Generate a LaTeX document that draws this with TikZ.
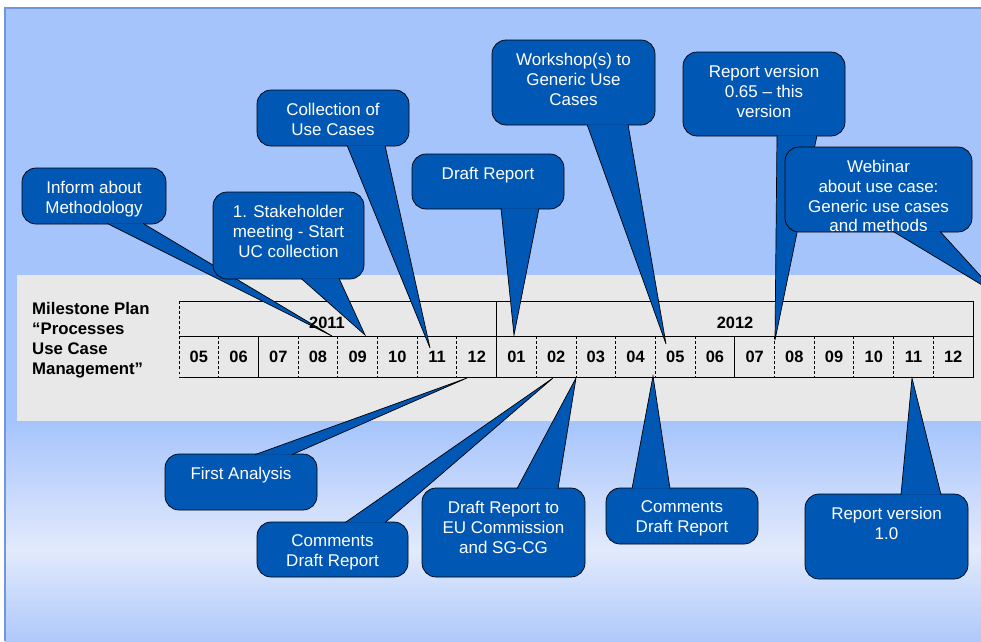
\documentclass[tikz,border=0pt]{standalone}
\usepackage{fontspec}
\setmainfont{Liberation Sans}
\usetikzlibrary{calc}

\definecolor{slideblue}{RGB}{166,196,252}
\definecolor{slidepale}{RGB}{226,234,252}
\definecolor{slidelow}{RGB}{174,201,251}
\definecolor{slideframe}{RGB}{110,150,225}
\definecolor{bandgrey}{RGB}{232,232,232}
\definecolor{bubbleblue}{RGB}{0,87,180}

\tikzset{
    bubble/.style 2 args={draw=black, fill=bubbleblue, line width=0.6pt, rounded corners=0.42cm,
        minimum width=#1*0.03cm, minimum height=#2*0.03cm, inner sep=0pt},
    bubtext/.style={anchor=north, yshift=-0.39cm, inner sep=0pt, text=white, align=center,
        font=\fontsize{14.5}{17}\selectfont},
    tail/.style={draw=black, fill=bubbleblue, line width=0.6pt},
    month/.style={font=\fontsize{14}{17}\selectfont\bfseries},
    solidline/.style={line width=0.8pt},
    dashline/.style={line width=0.8pt, dash pattern=on 2.5pt off 1.8pt},
}

\begin{document}
\begin{tikzpicture}[x=0.03cm, y=-0.03cm]

    %% Slide

    % Background
    \useasboundingbox (0,0) rectangle (981,641);
    \clip (0,0) rectangle (981,641);
    \fill[white] (0,0) rectangle (981,641);
    \fill[slideblue] (5,8) rectangle (981,421);
    \shade[top color=slideblue, bottom color=slidepale] (5,421) rectangle (981,550);
    \shade[top color=slidepale, bottom color=slidelow] (5,550) rectangle (981,641);
    \draw[slideframe, line width=1pt] (5,641) -- (5,8) -- (981,8);

    % Grey band
    \fill[bandgrey] (17,275) rectangle (981,421);

    % Title
    \node[anchor=north west, inner sep=0pt, align=left, font=\fontsize{14.3}{17}\selectfont\bfseries]
        (title) at (32,302) {Milestone Plan\\“Processes\\Use Case\\Management”};

    %% Time line

    % Frame
    \draw[solidline] (179,301) -- (973,301) -- (973,377) -- (179,377);
    \draw[solidline] (179,336) -- (973,336);
    \draw[solidline] (496.6,301) -- (496.6,377);
    \draw[dashline] (179,301) -- (179,377);

    % Month separators
    \foreach \k in {1,3,4,5,6,7,9,10,11,12,13,15,16,17,18,19}
        \draw[dashline] ({179+39.7*\k},336) -- ({179+39.7*\k},377);
    \foreach \k in {2,14}
        \draw[solidline] ({179+39.7*\k},336) -- ({179+39.7*\k},377);

    % Milestone points
    \coordinate (tInform) at (332,336);
    \coordinate (tStake) at (365,335);
    \coordinate (tCollect) at (430,348);
    \coordinate (tDraft) at (514,335);
    \coordinate (tWorkshop) at (666,344);
    \coordinate (tRepA) at (775,340);
    \coordinate (tWebinar) at (997,294);
    \coordinate (tFirst) at (467,378);
    \coordinate (tComA) at (553,378);
    \coordinate (tDraftEU) at (576,378);
    \coordinate (tComB) at (653,376);
    \coordinate (tRepB) at (912,378);

    %% Callouts above

    % Inform about Methodology
    \node[bubble={144}{56}, label={[bubtext]north:{Inform about\\Methodology}}] (inform) at (94,196) {};
    \filldraw[tail] ($(inform.south)+(13,-1)$) -- (tInform) -- ($(inform.south)+(49,-1)$);

    % Stakeholder meeting
    \node[bubble={151}{87}, label={[bubtext]north:{1. Stakeholder\\meeting - Start\\UC collection}}] (stake) at (288.5,235.5) {};
    \filldraw[tail] ($(stake.south)+(12.5,-1)$) -- (tStake) -- ($(stake.south)+(50.5,-1)$);

    % Collection of use cases
    \node[bubble={152}{56}, label={[bubtext]north:{Collection of\\Use Cases}}] (collect) at (333,118) {};
    \filldraw[tail] ($(collect.south)+(14,-1)$) -- (tCollect) -- ($(collect.south)+(52,-1)$);

    % Draft report
    \node[bubble={152}{55}, label={[bubtext]north:{Draft Report}}] (draft) at (488,181.5) {};
    \filldraw[tail] ($(draft.south)+(13,-1)$) -- (tDraft) -- ($(draft.south)+(51,-1)$);

    % Workshops
    \node[bubble={163}{85}, label={[bubtext]north:{Workshop(s) to\\Generic Use\\Cases}}] (workshop) at (573.5,82.5) {};
    \filldraw[tail] ($(workshop.south)+(13.5,-1)$) -- (tWorkshop) -- ($(workshop.south)+(54.5,-1)$);

    % Report version 0.65
    \node[bubble={162}{84}, label={[bubtext]north:{Report version\\0.65 – this\\version}}] (repA) at (764,94) {};
    \filldraw[tail] ($(repA.south)+(13,-1)$) -- (tRepA) -- ($(repA.south)+(53,-1)$);

    % Webinar
    \node[bubble={187}{85}, label={[bubtext]north:{Webinar\\about use case:\\Generic use cases\\and methods}}] (webinar) at (878.5,189.5) {};
    \filldraw[tail] ($(webinar.south)+(14.5,-1)$) -- (tWebinar) -- ($(webinar.south)+(61.5,-1)$);

    %% Callouts below

    % First analysis
    \node[bubble={152}{56}, label={[bubtext]north:{First Analysis}}] (first) at (241,482) {};
    \filldraw[tail] ($(first.north)+(14,1)$) -- (tFirst) -- ($(first.north)+(51,1)$);

    % Comments on draft
    \node[bubble={151}{55}, label={[bubtext]north:{Comments\\Draft Report}}] (comA) at (332.5,549.5) {};
    \filldraw[tail] ($(comA.north)+(12.5,1)$) -- (tComA) -- ($(comA.north)+(52.5,1)$);

    % Draft to EU Commission
    \node[bubble={163}{89}, label={[bubtext]north:{Draft Report to\\EU Commission\\and SG-CG}}] (draftEU) at (503.5,532.5) {};
    \filldraw[tail] ($(draftEU.north)+(13.5,1)$) -- (tDraftEU) -- ($(draftEU.north)+(54.5,1)$);

    % Comments on draft, second round
    \node[bubble={152}{56}, label={[bubtext]north:{Comments\\Draft Report}}] (comB) at (682,516) {};
    \filldraw[tail] ($(comB.north)+(-50,1)$) -- (tComB) -- ($(comB.north)+(-12,1)$);

    % Report version 1.0
    \node[bubble={163}{85}, label={[bubtext]north:{Report version\\1.0}}] (repB) at (886.5,536.5) {};
    \filldraw[tail] ($(repB.north)+(14.5,1)$) -- (tRepB) -- ($(repB.north)+(54.5,1)$);

    %% Labels

    % Months
    \foreach \m [count=\i from 0] in {05,06,07,08,09,10,11,12,01,02,03,04,05,06,07,08,09,10,11,12}
        \node[month] (m\i) at ({179+39.7*(\i+0.5)},357) {\m};

    % Years
    \node[month] (y2011) at (327,323) {2011};
    \node[month] (y2012) at (735,323) {2012};

\end{tikzpicture}
\end{document}
